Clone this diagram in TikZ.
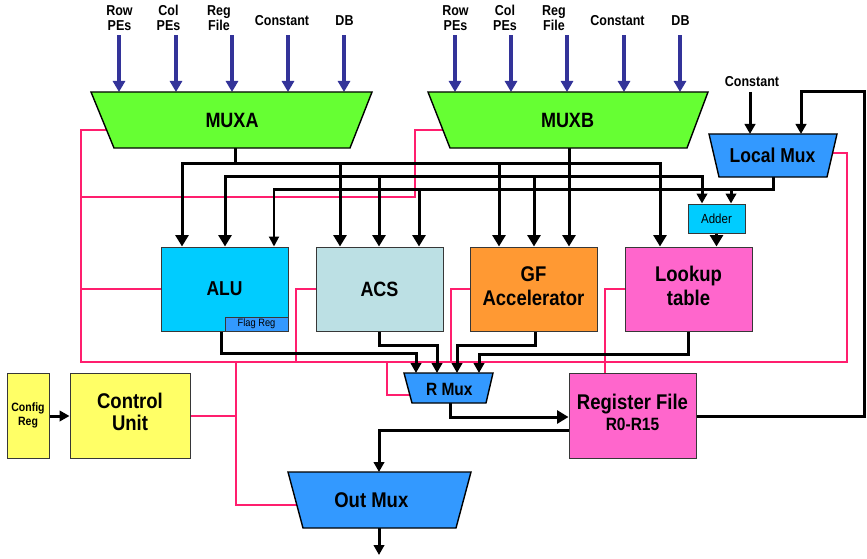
\documentclass[tikz,border=0pt]{standalone}
\usepackage{fontspec}
\setmainfont{Liberation Sans}
\usepackage{graphicx}
\usetikzlibrary{arrows.meta}
\pgfdeclarelayer{bg}
\pgfsetlayers{bg,main}
\definecolor{muxgreen}{RGB}{102,255,51}
\definecolor{muxblue}{RGB}{51,153,255}
\definecolor{alucyan}{RGB}{0,204,255}
\definecolor{acsgray}{RGB}{188,224,228}
\definecolor{gforange}{RGB}{255,153,51}
\definecolor{lutpink}{RGB}{255,102,204}
\definecolor{cuyellow}{RGB}{255,255,102}
\definecolor{ctrlpink}{RGB}{255,30,110}
\definecolor{inblue}{RGB}{51,51,153}
\definecolor{edgegray}{RGB}{55,55,55}
\newcommand\vstretch[1]{\scalebox{1}[1.15]{#1}}
\newcommand\fsset[2]{\fontsize{#1}{#2}\selectfont}
\newcommand\mlines[1]{\begin{tabular}{@{}c@{}}#1\end{tabular}}
\begin{document}
\begin{tikzpicture}[x=1pt,y=-1pt,
  box/.style={draw=edgegray, line width=1pt, inner sep=0pt, align=center, font=\bfseries},
  trap/.style={draw=black, line width=1.4pt},
  lbl/.style={inner sep=0pt, align=center, font=\bfseries},
  wire/.style={draw=black, line width=3pt},
  arrB/.style={wire, -{Triangle[width=13pt,length=11.5pt]}},
  arrS/.style={draw=black, line width=3pt, -{Triangle[width=10.5pt,length=10pt]}},
  arrT/.style={draw=black, line width=2pt, -{Triangle[width=10pt,length=10pt]}},
  inarrow/.style={draw=inblue, line width=3.3pt, -{Triangle[width=12pt,length=11pt]}},
  ctrl/.style={draw=ctrlpink, line width=1.4pt},
]
\useasboundingbox (0,0) rectangle (867,559);

% ---------- trapezoid muxes ----------
\filldraw[trap, fill=muxgreen] (91,92) -- (372,92) -- (350,148) -- (114,148) -- cycle;
\node[lbl] (muxa) at (232,120.5) {\vstretch{\fsset{18}{18}MUXA}};
\filldraw[trap, fill=muxgreen] (428,92) -- (708,92) -- (687,148) -- (450,148) -- cycle;
\node[lbl] (muxb) at (567.5,120.5) {\vstretch{\fsset{18}{18}MUXB}};
\filldraw[trap, fill=muxblue] (709,134) -- (837,134) -- (827,177) -- (719,177) -- cycle;
\node[lbl] (lmux) at (772.5,155) {\vstretch{\fsset{17.5}{17.5}Local Mux}};
\filldraw[trap, fill=muxblue] (404,373) -- (493,373) -- (486,403) -- (412,403) -- cycle;
\node[lbl] (rmux) at (449.3,389) {\vstretch{\fsset{15.5}{15.5}R Mux}};
\filldraw[trap, fill=muxblue] (288,472) -- (471,472) -- (456,528) -- (303,528) -- cycle;
\node[lbl] (omux) at (371.3,500) {\vstretch{\fsset{18.5}{18.5}Out Mux}};

\coordinate (muxa-out) at (235,148);
\coordinate (muxb-out) at (569,148);
\coordinate (lmux-out) at (773,177);
\coordinate (lmux-in1) at (750,134);
\coordinate (lmux-in2) at (801,134);
\coordinate (rmux-in1) at (416,373);
\coordinate (rmux-in2) at (437,373);
\coordinate (rmux-in3) at (457,373);
\coordinate (rmux-in4) at (479,373);
\coordinate (rmux-out) at (450,403);
\coordinate (omux-in) at (379,472);
\coordinate (omux-out) at (379,528);
\coordinate (out-end) at (379,555);

% ---------- boxes ----------
\node[box, fill=alucyan, minimum width=127pt, minimum height=84pt] (alu) at (224.5,289) {\vstretch{\fsset{17.5}{17.5}ALU}};
\node[box, fill=muxblue, minimum width=63pt, minimum height=14pt, font=\mdseries] (flag) at (256.5,324) {\vstretch{\fsset{9.3}{9.3}Flag Reg}};
\node[box, fill=acsgray, minimum width=127pt, minimum height=84pt] (acs) at (379.5,289) {\vstretch{\fsset{18}{18}ACS}};
\node[box, fill=gforange, minimum width=127pt, minimum height=84pt] (gf) at (533.5,289) {\vstretch{\fsset{18.5}{21}\mlines{GF\\Accelerator}}};
\node[box, fill=lutpink, minimum width=127pt, minimum height=84pt] (lut) at (688.5,289) {\vstretch{\fsset{18.5}{21}\mlines{Lookup\\table}}};
\node[box, fill=alucyan, minimum width=57pt, minimum height=29pt, font=\mdseries] (adder) at (716.5,218.5) {\vstretch{\fsset{11.5}{11.5}Adder}};
\node[box, fill=lutpink, minimum width=127pt, minimum height=85pt] (rf) at (632.5,415.5) {\vstretch{\fsset{18.5}{18}\mlines{Register File\\\fsset{15.5}{18}R0-R15}}};
\node[box, fill=cuyellow, minimum width=120pt, minimum height=85pt] (cu) at (130,415.5) {\vstretch{\fsset{18.5}{19}\mlines{Control\\Unit}}};
\node[box, fill=cuyellow, minimum width=42pt, minimum height=85pt] (cfg) at (28,415.5) {\vstretch{\fsset{10.5}{13}\mlines{Config\\Reg}}};

% ---------- top labels ----------
\node[lbl] (a1) at (119.5,20) {\vstretch{\fsset{12.5}{12.5}\mlines{Row\\PEs}}};
\node[lbl] (a2) at (168.5,20) {\vstretch{\fsset{12.5}{12.5}\mlines{Col\\PEs}}};
\node[lbl] (a3) at (219,20) {\vstretch{\fsset{12.5}{12.5}\mlines{Reg\\File}}};
\node[lbl] (a4) at (282,21) {\vstretch{\fsset{12.5}{12.5}Constant}};
\node[lbl] (a5) at (344.5,21) {\vstretch{\fsset{12.5}{12.5}DB}};
\node[lbl] (b1) at (455.5,20) {\vstretch{\fsset{12.5}{12.5}\mlines{Row\\PEs}}};
\node[lbl] (b2) at (505,20) {\vstretch{\fsset{12.5}{12.5}\mlines{Col\\PEs}}};
\node[lbl] (b3) at (554,20) {\vstretch{\fsset{12.5}{12.5}\mlines{Reg\\File}}};
\node[lbl] (b4) at (617.5,21) {\vstretch{\fsset{12.5}{12.5}Constant}};
\node[lbl] (b5) at (680.5,21) {\vstretch{\fsset{12.5}{12.5}DB}};
\node[lbl] (lconst) at (752,82) {\vstretch{\fsset{12.5}{12.5}Constant}};

\begin{pgfonlayer}{bg}
% ---------- control (pink) lines ----------
\draw[ctrl] (106.6,130) -- (81,130) -- (81,362) -- (847,362) -- (847,153) -- (832.6,153);
\draw[ctrl] (81,197) -- (415,197) -- (415,130) -- (442.9,130);
\draw[ctrl] (81,289) -- (alu.west);
\draw[ctrl] (acs.west) -- (296,289) -- (296,362);
\draw[ctrl] (gf.west) -- (451,289) -- (451,362);
\draw[ctrl] (lut.west) -- (605,289) -- (605,0 |- rf.north);
\draw[ctrl] (387,362) -- (387,395) -- (409.9,395);
\draw[ctrl] (236,362) -- (236,505) -- (296.8,505);
\draw[ctrl] (cu.east |- 0,416) -- (236,416);

% ---------- input arrows ----------
\foreach \x in {119,176,232,288,344,455,511,567,624,680}
  \draw[inarrow] (\x,35.5) -- (\x,92);

% ---------- MUXA bus ----------
\draw[wire] (muxa-out) -- (235,163);
\draw[arrB] (235,163) -| (182,0 |- alu.north);
\draw[arrB] (235,163) -| (660,0 |- lut.north);
\draw[arrB] (340,163) -- (340,0 |- acs.north);
\draw[arrB] (499,163) -- (499,0 |- gf.north);

% ---------- MUXB bus ----------
\draw[wire] (muxb-out) -- (569,176);
\draw[arrB] (569,176) -| (225,0 |- alu.north);
\draw[arrS] (569,176) -| (702,0 |- adder.north);
\draw[arrB] (379,176) -- (379,0 |- acs.north);
\draw[arrB] (534,176) -- (534,0 |- gf.north);
\draw[arrB] (569,176) -- (569,0 |- gf.north);

% ---------- Local Mux bus ----------
\draw[wire] (lmux-out) -- (773,189) -- (273,189);
\draw[arrT] (274,189) -- (274,0 |- alu.north);
\draw[arrB] (419,189) -- (419,0 |- acs.north);
\draw[arrS] (731,189) -- (731,0 |- adder.north);
\draw[arrB] (adder.south) -- (lut.north -| adder.south);

% ---------- Local Mux inputs ----------
\draw[arrS] (750,92) -- (lmux-in1);
\draw[arrS] (rf.east |- 0,416) -- (864,416) -- (864,92) -- (801,92) -- (lmux-in2);

% ---------- R Mux inputs ----------
\draw[arrS] (221,0 |- alu.south) -- (221,353) -| (rmux-in1);
\draw[arrS] (379,0 |- acs.south) -- (379,345) -| (rmux-in2);
\draw[arrS] (535,0 |- gf.south) -- (535,345) -| (rmux-in3);
\draw[arrS] (688,0 |- lut.south) -- (688,354) -| (rmux-in4);

% ---------- R Mux out, RF, Out Mux ----------
\draw[arrB] (rmux-out) |- (rf.west |- 0,417);
\draw[arrS] (rf.west |- 0,430) -| (omux-in);
\draw[arrS] (omux-out) -- (out-end);
\draw[arrS] (cfg.east |- 0,416) -- (cu.west |- 0,416);
\end{pgfonlayer}
\end{tikzpicture}
\end{document}
